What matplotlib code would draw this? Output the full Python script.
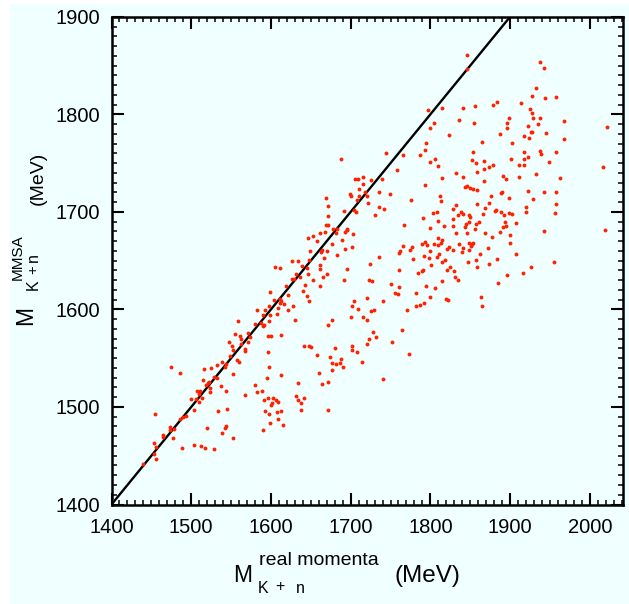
import matplotlib
matplotlib.use("Agg")
import matplotlib.pyplot as plt
from matplotlib.patches import Rectangle
from matplotlib.ticker import MultipleLocator

plt.rcParams['font.family'] = ['Liberation Sans', 'DejaVu Sans']

# invariant mass from real momenta (x) vs. MMSA reconstruction (y), MeV
m_real = [
    # low-mass region
    1555, 1571, 1561, 1562, 1574, 1571, 1548, 1551, 1562, 1567,
    1567, 1553, 1549, 1557, 1560, 1538, 1544, 1542, 1532, 1525,
    1516, 1552, 1529, 1532, 1515, 1521, 1522, 1519, 1524, 1523,
    1507, 1511, 1510, 1514, 1510, 1506, 1500, 1537, 1544, 1503,
    1493, 1490, 1486, 1534, 1545, 1520, 1544, 1543, 1539, 1552,
    1475, 1486, 1474, 1473, 1478, 1477, 1464, 1465, 1454, 1453,
    1456, 1453, 1456, 1439, 1488, 1503, 1512, 1517, 1529, 1596,
    1600, 1613, 1596, 1598, 1595, 1612, 1580, 1582, 1589, 1568,
    1591, 1596, 1603, 1606, 1600, 1601, 1609, 1593, 1597, 1607,
    1613, 1609, 1599, 1615, 1590, 1642, 1648, 1650, 1658, 1660,
    1664, 1672, 1674, 1634, 1631, 1634, 1638, 1642, 1638, 1671,
    # 1580-1680
    1669, 1671, 1671, 1669, 1672, 1662, 1668, 1658, 1653, 1647,
    1649, 1664, 1670, 1663, 1666, 1661, 1648, 1627, 1634, 1605,
    1611, 1639, 1645, 1661, 1670, 1665, 1653, 1647, 1631, 1636,
    1626, 1629, 1661, 1643, 1619, 1640, 1599, 1622, 1645, 1648,
    1604, 1611, 1613, 1616, 1611, 1628, 1597, 1609, 1621, 1583,
    1593, 1590, 1599, 1608, 1580, 1587, 1591, 1590, 1597, 1559,
    1630, 1671,
    1728, 1765, 1723, 1732, 1721, 1752, 1702, 1680, 1702, 1708,
    1688, 1677, 1682, 1687, 1690, 1676, 1714, 1773, 1740,
    # 1680-1860
    1715, 1699, 1701, 1711, 1718, 1721, 1722, 1736, 1749, 1710,
    1708, 1704, 1707, 1692, 1735, 1742, 1731, 1678, 1683, 1682,
    1693, 1695, 1696, 1703, 1689, 1676, 1693, 1702, 1683, 1736,
    1724, 1695, 1692, 1723, 1727, 1751, 1761, 1755, 1759, 1721,
    1704, 1702, 1709, 1741, 1726, 1729, 1701, 1716, 1720, 1676,
    1767, 1776,
    1793, 1843, 1846, 1850, 1854, 1858, 1812, 1813, 1832, 1829,
    1859, 1808, 1803, 1791, 1839, 1841, 1835, 1848, 1850, 1809,
    1817, 1829, 1828, 1845, 1849, 1857, 1861, 1799, 1843, 1856,
    1832, 1846, 1809, 1814, 1813, 1790, 1793, 1796, 1804, 1810,
    1823, 1821, 1829, 1836, 1841, 1840, 1848, 1848, 1851, 1852,
    1854, 1766, 1762, 1761, 1774, 1777, 1778, 1792, 1798, 1800,
    1808, 1811, 1818, 1814, 1862, 1857, 1847, 1859, 1801, 1824,
    1821, 1830, 1831, 1835, 1761, 1784, 1791, 1790, 1815, 1794,
    1806, 1782, 1800, 1820, 1822, 1792, 1787, 1782, 1771,
    1846, 1846, 1797, 1814, 1841, 1856, 1836, 1855, 1804, 1800,
    1823, 1794, 1793, 1787, 1766, 1744, 1688, 1806, 1799, 1809,
    1758, 1853, 1852, 1857, 1858, 1832, 1841, 1814, 1705, 1709,
    1715, 1726, 1739,
    # high-mass region
    1938, 1943, 1932, 1927, 1944, 1957, 1883, 1878, 1914, 1925,
    1927, 1929, 1937, 1899, 1896, 1896, 1923, 1935, 1967, 1926,
    1928, 1945, 1918, 1924, 1887, 1968, 1903, 1865, 2022, 1918,
    1937, 1939, 1957, 1922, 1918, 1901, 1949, 1867, 1878, 1873,
    1867, 1911, 1917, 2016, 1932, 1891, 1895, 1911, 1963,
    1867, 1876, 1888, 1890, 1899, 1922, 1943, 1957, 1929, 1874,
    1869, 1866, 1881, 1882, 1888, 1892, 1899, 1902, 1920, 1920,
    1956, 1957, 1893, 1891, 1895, 1907, 1868, 1877, 1887, 1900,
    1900, 1943, 2019, 1872, 1907, 1884, 1874, 1926, 1955, 1916,
    1896, 1885, 1864, 1865,
]

m_mmsa = [
    1575, 1576, 1573, 1570, 1572, 1567, 1567, 1563, 1565, 1559,
    1557, 1558, 1552, 1548, 1546, 1546, 1544, 1541, 1543, 1540,
    1539, 1534, 1531, 1530, 1528, 1525, 1526, 1523, 1519, 1515,
    1516, 1516, 1513, 1509, 1505, 1508, 1508, 1521, 1516, 1497,
    1491, 1490, 1488, 1496, 1498, 1478, 1480, 1478, 1473, 1468,
    1541, 1535, 1479, 1476, 1477, 1468, 1471, 1469, 1493, 1463,
    1459, 1452, 1447, 1442, 1458, 1461, 1460, 1458, 1457, 1573,
    1573, 1574, 1556, 1541, 1530, 1533, 1523, 1515, 1516, 1512,
    1507, 1509, 1509, 1507, 1502, 1504, 1505, 1496, 1493, 1495,
    1496, 1488, 1484, 1482, 1476, 1563, 1562, 1561, 1553, 1535,
    1524, 1526, 1551, 1525, 1511, 1507, 1504, 1509, 1497, 1497,
    1714, 1706, 1696, 1687, 1687, 1678, 1679, 1670, 1675, 1673,
    1660, 1661, 1660, 1659, 1653, 1646, 1651, 1650, 1650, 1643,
    1642, 1645, 1642, 1641, 1636, 1633, 1630, 1636, 1636, 1633,
    1631, 1631, 1624, 1625, 1624, 1619, 1618, 1615, 1614, 1609,
    1610, 1611, 1609, 1606, 1607, 1604, 1604, 1601, 1599, 1599,
    1599, 1594, 1594, 1595, 1585, 1586, 1584, 1583, 1588, 1588,
    1589, 1584,
    1577, 1579, 1570, 1572, 1565, 1567, 1563, 1560, 1558, 1556,
    1549, 1545, 1544, 1545, 1541, 1538, 1546, 1554, 1529,
    1729, 1718, 1716, 1723, 1720, 1716, 1709, 1720, 1718, 1716,
    1712, 1702, 1700, 1701, 1705, 1703, 1697, 1682, 1682, 1678,
    1679, 1682, 1681, 1677, 1671, 1667, 1662, 1664, 1656, 1654,
    1647, 1641, 1630, 1630, 1629, 1626, 1623, 1617, 1616, 1612,
    1609, 1604, 1600, 1609, 1598, 1599, 1592, 1592, 1589, 1589,
    1687, 1712,
    1728, 1726, 1727, 1724, 1723, 1722, 1716, 1711, 1707, 1703,
    1708, 1700, 1699, 1694, 1700, 1698, 1697, 1697, 1695, 1691,
    1686, 1693, 1686, 1688, 1690, 1688, 1690, 1683, 1684, 1682,
    1678, 1678, 1673, 1671, 1668, 1667, 1669, 1666, 1667, 1666,
    1664, 1662, 1661, 1667, 1663, 1659, 1661, 1668, 1665, 1667,
    1668, 1665, 1660, 1658, 1661, 1664, 1652, 1655, 1653, 1660,
    1654, 1657, 1651, 1649, 1657, 1651, 1649, 1643, 1646, 1643,
    1640, 1639, 1633, 1630, 1640, 1637, 1640, 1639, 1629, 1624,
    1622, 1617, 1613, 1611, 1610, 1607, 1605, 1603, 1599,
    1861, 1846, 1804, 1806, 1806, 1809, 1794, 1791, 1791, 1786,
    1779, 1771, 1763, 1758, 1758, 1760, 1754, 1754, 1751, 1747,
    1743, 1761, 1753, 1750, 1741, 1740, 1736, 1735, 1734, 1734,
    1736, 1733, 1734,
    1854, 1848, 1827, 1819, 1817, 1818, 1813, 1810, 1812, 1805,
    1801, 1796, 1796, 1796, 1791, 1786, 1788, 1790, 1793, 1782,
    1782, 1781, 1778, 1776, 1780, 1775, 1771, 1772, 1787, 1761,
    1762, 1759, 1761, 1756, 1754, 1754, 1751, 1752, 1748, 1746,
    1744, 1748, 1748, 1746, 1739, 1737, 1734, 1736, 1735,
    1732, 1716, 1719, 1720, 1714, 1721, 1720, 1720, 1713, 1709,
    1704, 1698, 1701, 1702, 1700, 1697, 1699, 1698, 1705, 1700,
    1699, 1708, 1690, 1685, 1686, 1689, 1678, 1674, 1679, 1676,
    1668, 1680, 1681, 1663, 1657, 1652, 1647, 1644, 1649, 1637,
    1635, 1627, 1613, 1603,
]

diag = [1400, 1900]  # y = x reference line
x_ticks = [1400, 1500, 1600, 1700, 1800, 1900, 2000]
y_ticks = [1400, 1500, 1600, 1700, 1800, 1900]

BG = '#f0ffff'
RED = '#ff2200'
W, H = 629, 604


def put(fig, s, px, py, size, rot=0):
    # px, py in pixels from top-left of the image, anchored at text baseline start
    fig.text(px / W, 1 - py / H, s, fontsize=size, ha='left', va='baseline',
             rotation=rot, rotation_mode='anchor', color='black')


fig = plt.figure(figsize=(W / 100, H / 100), dpi=100)
fig.patch.set_facecolor('white')
fig.add_artist(Rectangle((10 / W, 0), 1, 1 - 4 / H, transform=fig.transFigure,
                         facecolor=BG, edgecolor='none', zorder=-5))

ax = fig.add_axes([111.5 / W, 1 - 504.5 / H, (623.3 - 111.5) / W, (504.5 - 16.8) / H])
ax.set_facecolor(BG)

ax.plot(diag, diag, color='black', lw=1.7, zorder=2)
ax.plot(m_real, m_mmsa, 'o', ms=2.8, mfc=RED, mec='none', zorder=3)

ax.set_xlim(1400, 2042)
ax.set_ylim(1400, 1900)
ax.set_xticks(x_ticks)
ax.set_yticks(y_ticks)
ax.xaxis.set_minor_locator(MultipleLocator(10))
ax.yaxis.set_minor_locator(MultipleLocator(10))
ax.tick_params(which='both', direction='in', top=True, right=True, colors='black')
ax.tick_params(which='major', length=8.5, width=1.5, labelsize=14.5)
ax.tick_params(which='minor', length=3.3, width=1.1)
ax.tick_params(axis='x', which='major', pad=9.5)
ax.tick_params(axis='y', which='major', pad=8)
for sp in ax.spines.values():
    sp.set_linewidth(1.8)

# x axis label pieces
put(fig, 'M', 233, 581.5, 16.5)
put(fig, 'real momenta', 259, 565, 14)
put(fig, 'K', 258, 593, 11.5)
put(fig, '+', 275.5, 591, 11.5)
put(fig, 'n', 296, 593, 11.5)
put(fig, '(MeV)', 395, 582, 17.5)

# y axis label pieces (rotated)
put(fig, 'M', 32.3, 325, 16.5, 90)
put(fig, 'MMSA', 21.5, 280, 11, 90)
put(fig, 'K', 37.5, 290, 11.5, 90)
put(fig, '+', 37, 274.5, 10.5, 90)
put(fig, 'n', 37.5, 262, 11.5, 90)
put(fig, '(MeV)', 43, 205, 14, 90)

fig.savefig('out.png', dpi=100)
